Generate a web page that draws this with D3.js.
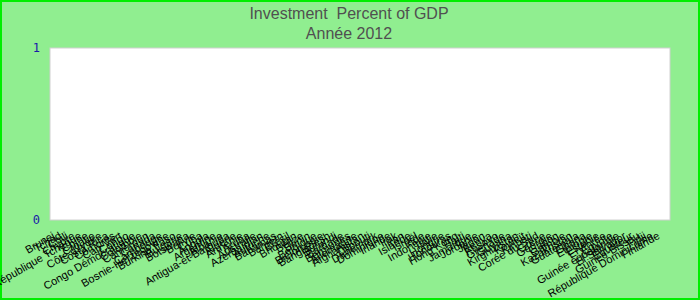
<!DOCTYPE html>
<html>
<head>
<meta charset="utf-8">
<script src="https://cdn.jsdelivr.net/npm/d3@7"></script>
<style>
  body { margin: 0; padding: 0; background: #ffffff; }
  svg { display: block; }
</style>
</head>
<body>
<div id="chart"></div>
<script>
// Countries on the x axis (order as they appear on the picture)
var countries = [
  "Brunei", "Tchad", "Chili", "Chypre", "République Tchèque", "Chine", "Croatie",
  "Côte d'Ivoire", "Costa Rica", "Comores", "Cap-Vert", "Congo", "Congo Démocratique",
  "Colombie", "Cameroun", "Canada", "Cambodge", "Bosnie-Herzégovine", "Burkina Faso",
  "Bulgarie", "Botswana", "Bolivie", "Cuba", "Angola", "Argentine", "Albanie",
  "Antigua-et-Barbuda", "Algérie", "Arménie", "Aruba", "Australie", "Azerbaïdjan",
  "Autriche", "Bahamas", "Bahreïn", "Brésil", "Bhoutan", "Belize", "Bénin", "Belgique",
  "Biélorussie", "Bangladesh", "Burundi", "Barbade", "Bermudes", "Allemagne",
  "Afghanistan", "Djibouti", "Danemark", "Dominique", "Irlande", "Irak", "Iran",
  "Islande", "Israël", "Inde", "Indonésie", "Italie", "Hongrie", "Honduras", "Hong Kong",
  "Haïti", "Jamaïque", "Jordanie", "Japon", "Kenya", "Kosovo", "Grenade", "Guyana",
  "Kirghizistan", "Koweït", "Kiribati", "Corée du Sud", "Grèce", "Géorgie", "Gabon",
  "Gambie", "Kazakhstan", "Guatemala", "Ghana", "Éthiopie", "Estonie", "Érythrée",
  "Égypte", "Guinée équatoriale", "El Salvador", "Équateur", "Guinée-Bissau", "Fidji",
  "République Dominicaine", "Finlande"
];

// Investment (% of GDP) for 2012 : nothing is plotted on the picture
var values = [
  0, 0, 0, 0, 0, 0, 0, 0, 0, 0, 0, 0, 0, 0, 0, 0, 0, 0, 0, 0,
  0, 0, 0, 0, 0, 0, 0, 0, 0, 0, 0, 0, 0, 0, 0, 0, 0, 0, 0, 0,
  0, 0, 0, 0, 0, 0, 0, 0, 0, 0, 0, 0, 0, 0, 0, 0, 0, 0, 0, 0,
  0, 0, 0, 0, 0, 0, 0, 0, 0, 0, 0, 0, 0, 0, 0, 0, 0, 0, 0, 0,
  0, 0, 0, 0, 0, 0, 0, 0, 0, 0, 0
];

var yTicks = [0, 1];
var titleLines = ["Investment  Percent of GDP", "Année 2012"];

var width = 700, height = 300;
var plot = { left: 50, right: 670, top: 48, bottom: 220 };

var svg = d3.select("#chart")
  .append("svg")
  .attr("width", width)
  .attr("height", height);

// Background + green frame
svg.append("rect")
  .attr("x", 1).attr("y", 1)
  .attr("width", width - 2).attr("height", height - 2)
  .style("fill", "#90ee90")
  .style("stroke", "#00ee00")
  .style("stroke-width", 2);

// Title (keep the double space)
svg.selectAll(".title")
  .data(titleLines)
  .enter()
  .append("text")
  .attr("class", "title")
  .attr("x", 349)
  .attr("y", function (d, i) { return 19 + i * 20; })
  .attr("text-anchor", "middle")
  .style("white-space", "pre")
  .style("font-family", "'Liberation Sans', Arial, sans-serif")
  .style("font-size", "16px")
  .style("fill", "#505050")
  .text(function (d) { return d; });

var x = d3.scalePoint()
  .domain(countries)
  .range([plot.left + 5, plot.right - 10]);

var y = d3.scaleLinear()
  .domain([0, 1])
  .range([plot.bottom, plot.top]);

// Plot area
svg.append("rect")
  .attr("x", plot.left).attr("y", plot.top)
  .attr("width", plot.right - plot.left)
  .attr("height", plot.bottom - plot.top)
  .style("fill", "#ffffff")
  .style("stroke", "#d0d0d0")
  .style("stroke-width", 1);

// Bars (all zero so nothing shows)
svg.append("g")
  .selectAll("rect")
  .data(values)
  .enter()
  .append("rect")
  .attr("x", function (d, i) { return x(countries[i]) - 2; })
  .attr("y", function (d) { return y(d); })
  .attr("width", 4)
  .attr("height", function (d) { return y(0) - y(d); })
  .style("fill", "#3366cc");

// Y axis labels (blue, on the left)
var yAxis = d3.axisLeft(y).tickValues(yTicks).tickSize(0).tickPadding(10).tickFormat(d3.format("d"));
var gy = svg.append("g")
  .attr("transform", "translate(" + plot.left + ",0)")
  .call(yAxis);
gy.select(".domain").remove();
gy.selectAll("text")
  .style("font-family", "'DejaVu Sans Mono', monospace")
  .style("font-size", "12px")
  .style("fill", "#1a1aa8");

// X axis labels, rotated
var xAxis = d3.axisBottom(x).tickSize(0).tickPadding(0);
var gx = svg.append("g")
  .attr("transform", "translate(0," + plot.bottom + ")")
  .call(xAxis);
gx.select(".domain").remove();
gx.selectAll("text")
  .attr("y", 0)
  .attr("dy", 0)
  .attr("text-anchor", "end")
  .attr("transform", "translate(0,18) rotate(-30)")
  .style("font-family", "'Liberation Sans', Arial, sans-serif")
  .style("font-size", "11px")
  .style("fill", "#000000");
</script>
</body>
</html>
